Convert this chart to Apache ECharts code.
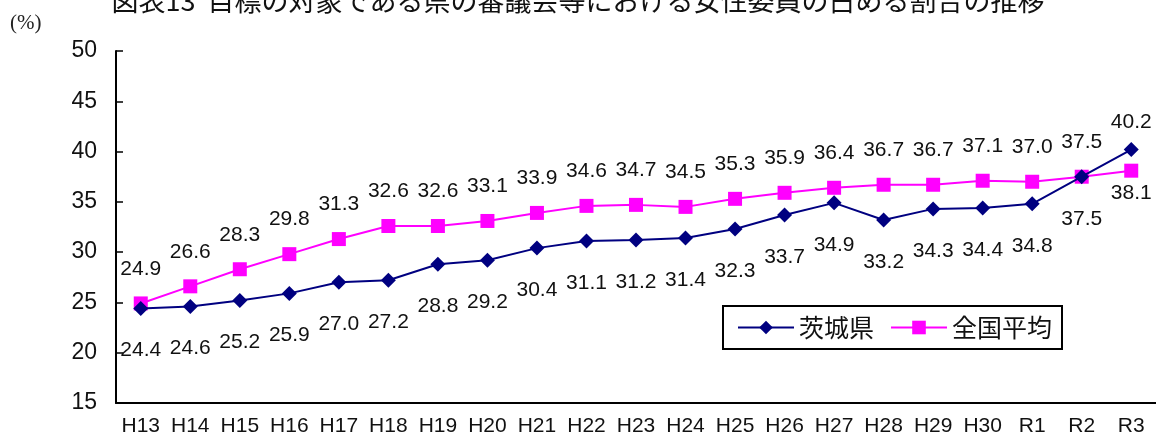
<!DOCTYPE html>
<html>
<head>
<meta charset="utf-8">
<script src="https://cdn.jsdelivr.net/npm/echarts@6/dist/echarts.min.js"></script>
<style>
  html, body { margin: 0; padding: 0; background: #fff; }
  #chart { width: 1156px; height: 445px; }
</style>
</head>
<body>
<div id="chart"></div>
<script>
// Fiscal years (Heisei / Reiwa)
const years = ['H13','H14','H15','H16','H17','H18','H19','H20','H21','H22','H23',
               'H24','H25','H26','H27','H28','H29','H30','R1','R2','R3'];
// Share of women on prefectural councils (%)
const ibaraki = [24.4, 24.6, 25.2, 25.9, 27.0, 27.2, 28.8, 29.2, 30.4, 31.1, 31.2,
                 31.4, 32.3, 33.7, 34.9, 33.2, 34.3, 34.4, 34.8, 37.5, 40.2];
const national = [24.9, 26.6, 28.3, 29.8, 31.3, 32.6, 32.6, 33.1, 33.9, 34.6, 34.7,
                  34.5, 35.3, 35.9, 36.4, 36.7, 36.7, 37.1, 37.0, 37.5, 38.1];
const yTicks = { min: 15, max: 50, step: 5 };

const numFont = 'Liberation Sans, Arial, sans-serif';
const jpFont = '"Noto Sans CJK JP", sans-serif';

// Ibaraki labels sit below the points except the last one; national above except the last
const lastIdx = years.length - 1;
const ibarakiData = ibaraki.map((v, i) => i === lastIdx
  ? { value: v, label: { position: 'top', distance: 9 } }
  : v);
const nationalData = national.map((v, i) => i === lastIdx
  ? { value: v, label: { position: 'bottom', distance: 5 } }
  : v);

const chart = echarts.init(document.getElementById('chart'), null, { renderer: 'canvas' });
chart.setOption({
  animation: false,
  backgroundColor: '#ffffff',
  title: {
    text: '図表13  目標の対象である県の審議会等における女性委員の占める割合の推移',
    left: 'center',
    top: -18,
    textStyle: { fontFamily: jpFont, fontSize: 27, fontWeight: 'normal', color: '#111' }
  },
  graphic: [{
    type: 'text',
    left: 10,
    top: 13,
    style: { text: '(%)', font: '21px "Liberation Serif", "DejaVu Serif", serif', fill: '#222' }
  }],
  legend: {
    left: 723,
    top: 306,
    orient: 'horizontal',
    backgroundColor: '#fff',
    borderColor: '#000',
    borderWidth: 2,
    borderRadius: 0,
    padding: [9, 10, 9, 14],
    itemGap: 16,
    itemWidth: 56,
    itemHeight: 17,
    textStyle: { fontFamily: jpFont, fontSize: 25, color: '#111' },
    data: ['茨城県', '全国平均']
  },
  grid: { left: 116, right: 0, top: 51, bottom: 42 },
  xAxis: {
    type: 'category',
    data: years,
    boundaryGap: true,
    axisLine: { lineStyle: { color: '#000', width: 2 } },
    axisTick: { inside: true, length: 6, lineStyle: { color: '#000', width: 1.5 } },
    axisLabel: { fontFamily: numFont, fontSize: 21, color: '#111', margin: 13, interval: 0 },
    splitLine: { show: false }
  },
  yAxis: {
    type: 'value',
    min: yTicks.min,
    max: yTicks.max,
    interval: yTicks.step,
    axisLine: { show: true, lineStyle: { color: '#000', width: 2 } },
    axisTick: { show: true, inside: true, length: 7, lineStyle: { color: '#000', width: 1.5 } },
    axisLabel: { fontFamily: numFont, fontSize: 23, color: '#111', margin: 19 },
    splitLine: { show: false }
  },
  series: [
    {
      name: '茨城県',
      type: 'line',
      data: ibarakiData,
      color: '#000080',
      symbol: 'diamond',
      symbolSize: 15,
      lineStyle: { width: 2, color: '#000080' },
      itemStyle: { color: '#000080' },
      label: {
        show: true,
        position: 'bottom',
        distance: 24,
        fontFamily: numFont,
        fontSize: 21,
        color: '#111',
        formatter: p => p.value.toFixed(1)
      },
      z: 3
    },
    {
      name: '全国平均',
      type: 'line',
      data: nationalData,
      color: '#ff00ff',
      symbol: 'rect',
      symbolSize: 14,
      lineStyle: { width: 2, color: '#ff00ff' },
      itemStyle: { color: '#ff00ff' },
      label: {
        show: true,
        position: 'top',
        distance: 17,
        fontFamily: numFont,
        fontSize: 21,
        color: '#111',
        formatter: p => p.value.toFixed(1)
      },
      z: 2
    }
  ]
});
</script>
</body>
</html>
